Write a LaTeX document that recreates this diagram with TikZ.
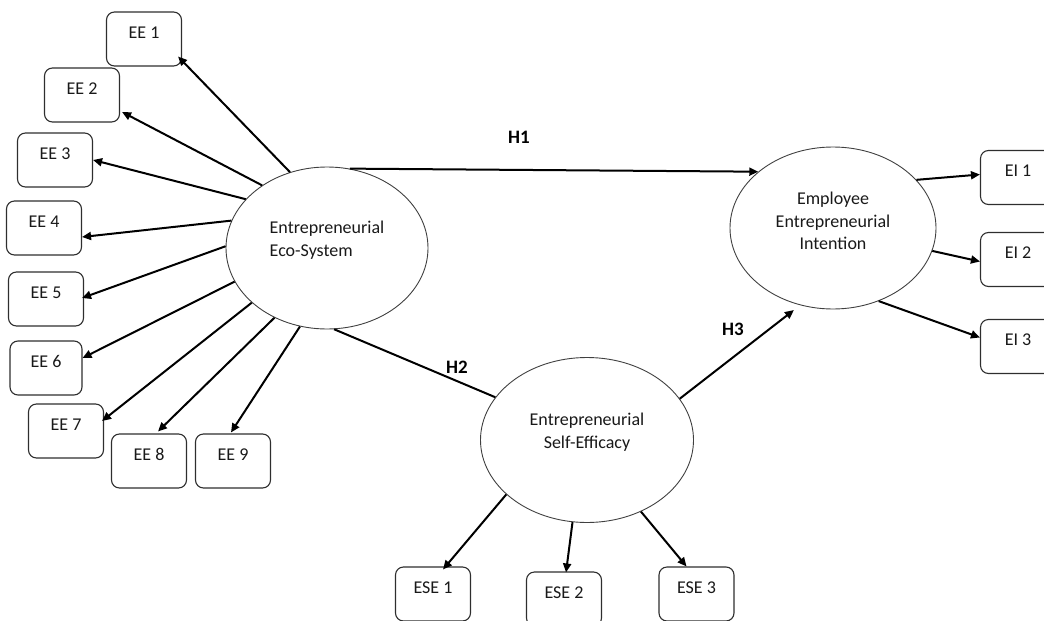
\documentclass[tikz,border=0pt]{standalone}
\usepackage{fontspec}
\setmainfont{Carlito}
\usetikzlibrary{arrows.meta,shapes.geometric}
\begin{document}
\begin{tikzpicture}[x=1pt,y=-1pt,
  font=\fontsize{18}{22.5}\selectfont,
  indicator/.style={draw=black!82, line width=1.1pt, rounded corners=8pt,
    minimum width=75pt, minimum height=54pt, inner sep=0pt,
    text height=9pt, text depth=11pt, text=black!90},
  construct/.style={ellipse, draw=black!75, line width=0.9pt, inner sep=0pt},
  path/.style={line width=2pt, -{Triangle[length=9pt,width=8pt]}},
  plainpath/.style={line width=2pt},
  hyp/.style={font=\fontsize{19}{21}\selectfont\bfseries, text=black}]
\useasboundingbox (0,0) rectangle (1044,621);
\clip (0,0) rectangle (1044,621);

% latent constructs
\node[construct, minimum width=202pt, minimum height=162pt,
  label={[yshift=8pt, align=left, text=black!90]center:Entrepreneurial\\Eco-System}]
  (ees) at (327,248) {};
\node[construct, minimum width=206pt, minimum height=162pt,
  label={[yshift=7pt, align=center, text=black!90]center:Employee\\Entrepreneurial\\Intention}]
  (eei) at (833,228) {};
\node[construct, minimum width=213pt, minimum height=165pt,
  label={[yshift=8pt, align=center, text=black!90]center:Entrepreneurial\\Self-Efficacy}]
  (ese) at (587,440) {};

% indicators of the eco-system
\node[indicator] (ee1) at (144,39) {EE 1};
\node[indicator] (ee2) at (82,95) {EE 2};
\node[indicator] (ee3) at (55,160) {EE 3};
\node[indicator] (ee4) at (44,228) {EE 4};
\node[indicator] (ee5) at (46,299) {EE 5};
\node[indicator, minimum width=72pt] (ee6) at (46,368) {EE 6};
\node[indicator] (ee7) at (66,431) {EE 7};
\node[indicator] (ee8) at (149,461) {EE 8};
\node[indicator] (ee9) at (233,461) {EE 9};

% indicators of intention
\node[indicator] (ei1) at (1018,177.5) {EI 1};
\node[indicator] (ei2) at (1018,259.5) {EI 2};
\node[indicator] (ei3) at (1018,346.5) {EI 3};

% indicators of self-efficacy
\node[indicator] (ese1) at (433,594) {ESE 1};
\node[indicator] (ese2) at (564,599) {ESE 2};
\node[indicator] (ese3) at (696.5,594) {ESE 3};

% measurement arrows
\draw[path] (ees.116) -- ([xshift=-4pt,yshift=10pt]ee1.south east);
\draw[path] (ees.136) -- ([xshift=2pt,yshift=-17pt]ee2.east);
\draw[path] (ees.149) -- (ee3.east);
\draw[path] (ees.164) -- ([yshift=-9pt]ee4.east);
\draw[path] (ees.179) -- ([xshift=-2pt,yshift=1pt]ee5.east);
\draw[path] (ees.200) -- ([yshift=10pt]ee6.east);
\draw[path] (ees.216.5) -- ([xshift=-2pt,yshift=10pt]ee7.east);
\draw[path] (ees.233.5) -- ([xshift=9pt,yshift=2pt]ee8.north);
\draw[path] (ees.251) -- ([xshift=-2pt,yshift=1pt]ee9.north);

\draw[path] (eei.30) -- ([yshift=3pt]ei1.west);
\draw[path] (eei.347.5) -- ([yshift=-2pt]ei2.west);
\draw[path] (eei.302) -- ([yshift=9pt]ei3.west);

\draw[path] (ese.214) -- ([xshift=10pt,yshift=-3pt]ese1.north);
\draw[path] (ese.260.4) -- ([xshift=2pt,yshift=-1pt]ese2.north);
\draw[path] (ese.307) -- ([xshift=-10pt]ese3.north);

% structural paths
\draw[path] (ees.74) -- (eei.143);
\draw[plainpath] (ees.275.6) -- (ese.155.7);
\draw[path] (ese.24.8) -- ([xshift=-2pt,yshift=-6pt]eei.244);

\node[hyp] (h1) at (519,137) {H1};
\node[hyp] (h2) at (457,367) {H2};
\node[hyp] (h3) at (733,329) {H3};
\end{tikzpicture}
\end{document}
